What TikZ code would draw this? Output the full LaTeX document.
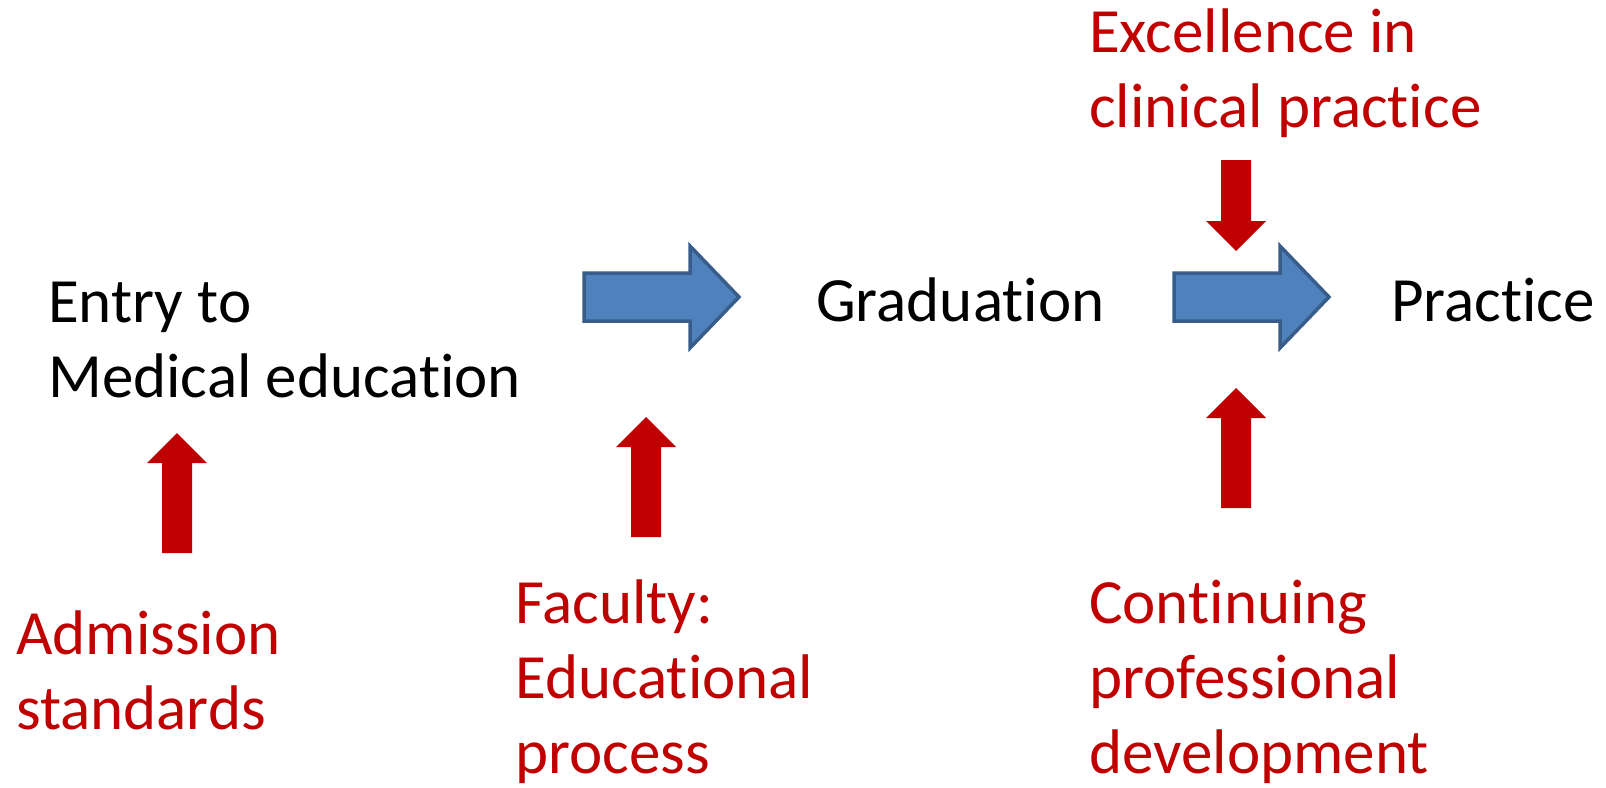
\documentclass[tikz,border=0pt]{standalone}
\usepackage{fontspec}
\setmainfont{Carlito}[Ligatures=NoCommon]
\definecolor{pptred}{HTML}{C00000}
\definecolor{pptblue}{HTML}{4F81BD}
\definecolor{pptblueline}{HTML}{385D8A}
\begin{document}
\begin{tikzpicture}[x=1pt, y=-1pt,
  stage/.style={anchor=base west, inner sep=0pt, align=left, font=\fontsize{63}{75}\selectfont},
  factor/.style={stage, text=pptred},
  bluearrow/.style={fill=pptblue, draw=pptblueline, line width=3.5pt, line join=miter},
  redarrow/.style={fill=pptred}]
\useasboundingbox (0,0) rectangle (1606,787);

% texts, placed at the baseline of their last line
\node[stage] (entry) at (48,397) {Entry to\\Medical education};
\node[stage] (grad) at (816,321) {Graduation};
\node[stage] (practice) at (1391,321) {Practice};

\node[factor] (admission) at (16,729) {Admission\\standards};
\node[factor] (faculty) at (515,773) {Faculty:\\Educational\\process};
\node[factor] (excellence) at (1089,127) {Excellence in\\clinical practice};
\node[factor] (cpd) at (1089,773) {Continuing\\professional\\development};

% big blue arrows
\foreach \x in {584,1174}
  \draw[bluearrow] (\x,273) -- (\x+106,273) -- (\x+106,246) -- (\x+155,297)
    -- (\x+106,348) -- (\x+106,321) -- (\x,321) -- cycle;

% red arrows pointing up
\foreach \x/\tip/\bot in {177/433/553, 646/417/537, 1236/388/508}
  \fill[redarrow] (\x,\tip) -- (\x+30,\tip+30) -- (\x+15,\tip+30) -- (\x+15,\bot)
    -- (\x-15,\bot) -- (\x-15,\tip+30) -- (\x-30,\tip+30) -- cycle;

% red arrow pointing down
\fill[redarrow] (1236,251) -- (1266,221) -- (1251,221) -- (1251,160)
  -- (1221,160) -- (1221,221) -- (1206,221) -- cycle;
\end{tikzpicture}
\end{document}
